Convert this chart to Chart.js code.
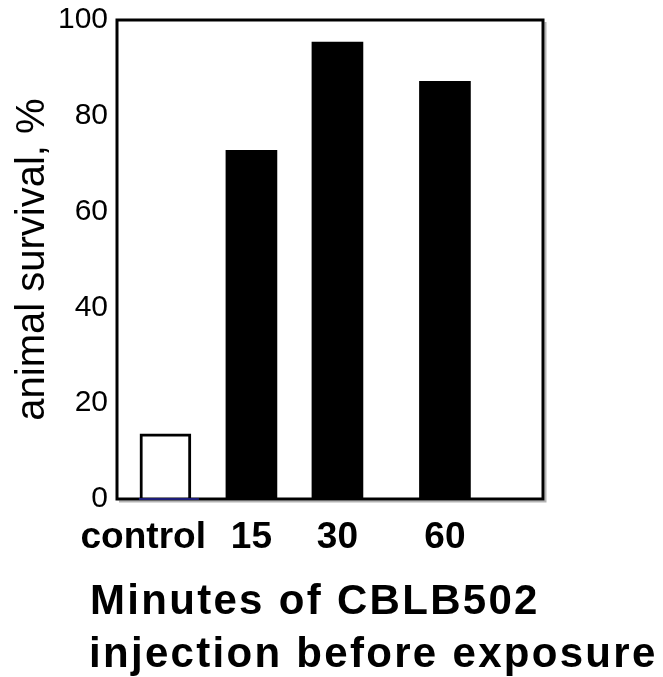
<!DOCTYPE html>
<html><head><meta charset="utf-8">
<script src="https://cdn.jsdelivr.net/npm/chart.js@4.4.0/dist/chart.umd.min.js"></script>
<style>html,body{margin:0;padding:0;background:#fff}#wrap{width:663px;height:677px;position:relative}</style>
</head><body><div id="wrap"><canvas id="c"></canvas></div>
<script>
const categories = ["control", "15", "30", "60"];
const survivalPercent = [13.6, 72.8, 95.4, 87.2];
const categorySlots = [1, 2, 3, 4.25];
const yTickValues = [0, 20, 40, 60, 80, 100];
const xTitleLines = ["Minutes of CBLB502", "injection before exposure"];
const yTitle = "animal survival, %";
const fillColors = ["#ffffff", "#000000", "#000000", "#000000"];
const borderWidths = [3, 0, 0, 0];

const FONT = "'Liberation Sans', Arial, Helvetica, sans-serif";

const framePlugin = {
  id: 'frame',
  afterDatasetsDraw(chart) {
    const {ctx, chartArea: a} = chart;
    ctx.save();
    ctx.strokeStyle = '#b4b4b4'; ctx.lineWidth = 2;
    ctx.beginPath();
    ctx.moveTo(a.right + 2.5, a.top + 2);
    ctx.lineTo(a.right + 2.5, a.bottom + 2.5);
    ctx.lineTo(a.left + 2, a.bottom + 2.5);
    ctx.stroke();
    ctx.strokeStyle = '#000'; ctx.lineWidth = 3;
    ctx.strokeRect(a.left, a.top, a.right - a.left, a.bottom - a.top);
    const bar = chart.getDatasetMeta(0).data[0];
    if (bar) {
      ctx.strokeStyle = '#1c1c78'; ctx.lineWidth = 2;
      ctx.beginPath();
      ctx.moveTo(bar.x - bar.width / 2 - 1, a.bottom);
      ctx.lineTo(bar.x + bar.width / 2 + 8, a.bottom);
      ctx.stroke();
    }
    ctx.restore();
  },
  afterDraw(chart) {
    const ctx = chart.ctx;
    ctx.save();
    ctx.fillStyle = '#000';
    ctx.font = "bold 42px " + FONT;
    ctx.textAlign = 'left';
    ctx.textBaseline = 'alphabetic';
    try { ctx.letterSpacing = '2.3px'; } catch (e) {}
    ctx.fillText(xTitleLines[0], 90, 614);
    ctx.fillText(xTitleLines[1], 89, 667);
    ctx.restore();
  }
};

new Chart(document.getElementById('c'), {
  type: 'bar',
  data: {
    datasets: [{
      data: survivalPercent.map((v, i) => ({x: categorySlots[i], y: v})),
      backgroundColor: fillColors,
      borderColor: '#000',
      borderWidth: borderWidths,
      borderSkipped: 'bottom',
      barThickness: 51
    }]
  },
  options: {
    responsive: true,
    maintainAspectRatio: false,
    animation: false,
    devicePixelRatio: 1,
    layout: {padding: {top: 20, right: 120, left: 0, bottom: 0}},
    plugins: {legend: {display: false}, tooltip: {enabled: false}},
    scales: {
      x: {
        type: 'linear',
        min: 0.437,
        max: 5.39,
        offset: false,
        grid: {display: false, drawTicks: false},
        border: {display: false},
        afterBuildTicks: (s) => { s.ticks = categorySlots.map(v => ({value: v})); },
        afterFit: (s) => { s.height = 178; s.paddingLeft = 0; s.paddingRight = 0; },
        ticks: {
          autoSkip: false, maxRotation: 0, minRotation: 0,
          padding: 17,
          color: '#000',
          font: {family: FONT, size: 37, weight: 'bold'},
          callback: (v, i) => i === 0 ? categories[i] + '\u2002\u2002\u2009' : categories[i]
        }
      },
      y: {
        min: 0, max: 100,
        grid: {display: false, drawTicks: false},
        border: {display: false},
        afterBuildTicks: (s) => { s.ticks = yTickValues.map(v => ({value: v})); },
        afterFit: (s) => { s.width = 117; s.paddingTop = 0; s.paddingBottom = 0; },
        ticks: {
          padding: 9,
          color: '#000',
          font: {family: FONT, size: 30}
        },
        title: {
          display: true,
          text: yTitle,
          color: '#000',
          font: {family: FONT, size: 40},
          padding: {top: 9, bottom: 0}
        }
      }
    }
  },
  plugins: [framePlugin]
});
</script>
</body></html>
